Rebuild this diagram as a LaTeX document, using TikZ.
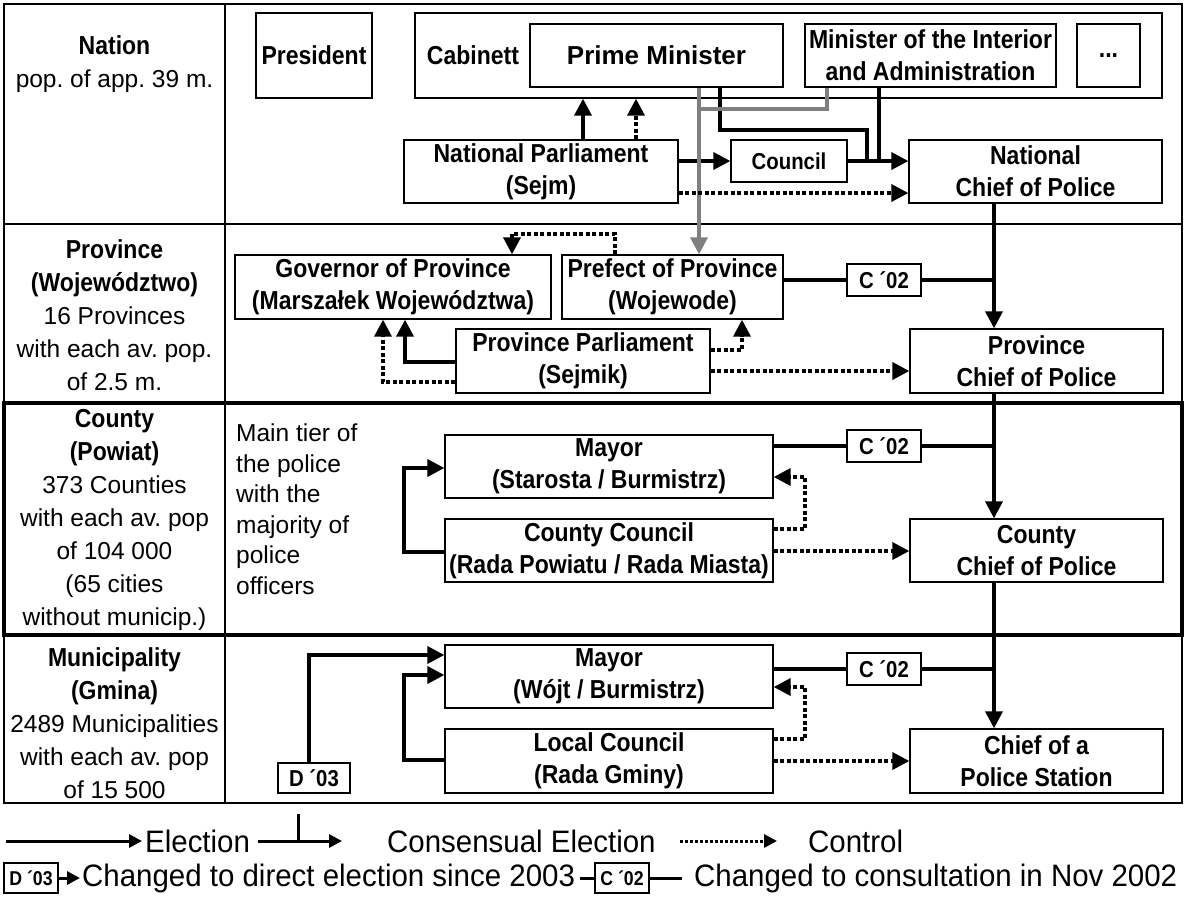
\documentclass[tikz,border=0pt]{standalone}
\usepackage{fontspec}
\setmainfont{Liberation Sans}[BoldFeatures={FakeStretch=0.885}]
\newfontfamily\widefam{Liberation Sans}
\newfontfamily\legfam{Liberation Sans}[FakeStretch=0.95]
\usetikzlibrary{arrows.meta}
\definecolor{lg}{RGB}{128,128,128}
\begin{document}
\frenchspacing
\begin{tikzpicture}[x=1pt,y=-1pt,
  bt/.style={font=\fontsize{26}{32}\selectfont\bfseries},
  rt/.style={font=\fontsize{24.5}{33}\selectfont},
  st/.style={font=\fontsize{23}{28}\selectfont\bfseries},
  lt/.style={font=\legfam\fontsize{31}{34}\selectfont, anchor=west, inner sep=0pt},
  box/.style={draw, line width=1.3pt, inner sep=0pt, align=center, bt},
  sbox/.style={draw, line width=1.3pt, inner sep=0pt, align=center, st, fill=white},
  lbox/.style={draw, line width=1.3pt, inner sep=0pt, align=center, font=\fontsize{20}{24}\selectfont\bfseries, minimum width=54, minimum height=30},
  el/.style={line width=3.5pt, -{Triangle[width=17pt,length=17pt]}},
  ln/.style={line width=3.5pt},
  ctl/.style={line width=3.5pt, dash pattern=on 4pt off 2.5pt, -{Triangle[width=17pt,length=17pt]}},
  gr/.style={line width=3.5pt, draw=lg},
  grl/.style={line width=3.5pt, draw=lg, -{Triangle[width=17pt,length=17pt]}},
  lel/.style={line width=3pt, -{Triangle[width=13pt,length=13pt]}},
  lln/.style={line width=3pt},
  col/.style={align=center, rt, inner sep=0pt, anchor=north},
  grid/.style={line width=1.3pt},
  thk/.style={line width=4pt}
]
\useasboundingbox (0,0) rectangle (1185,898);
\fill[white] (0,0) rectangle (1185,898);
% table
\draw[grid] (4,4) rectangle (1182,803);
\draw[grid] (225,4) -- (225,803);
\draw[grid] (4,224) -- (1182,224);
\draw[thk] (4,403) rectangle (1182,635);

% left column
\node[col] (tNation) at (114.5,35) {{\fontsize{26}{33}\selectfont\bfseries Nation}\\pop. of app. 39 m.};
\node[col] (tProv) at (114.5,239) {{\fontsize{26}{33}\selectfont\bfseries Province}\\{\fontsize{26}{33}\selectfont\bfseries (Województwo)}\\16 Provinces\\with each av. pop.\\of 2.5 m.};
\node[col] (tCounty) at (114.5,409) {{\fontsize{26}{33}\selectfont\bfseries County}\\{\fontsize{26}{33}\selectfont\bfseries (Powiat)}\\373 Counties\\with each av. pop\\of 104 000\\(65 cities\\without municip.)};
\node[col] (tMun) at (114.5,647) {{\fontsize{26}{33}\selectfont\bfseries Municipality}\\{\fontsize{26}{33}\selectfont\bfseries (Gmina)}\\2489 Municipalities\\with each av. pop\\of 15 500};
\node[align=left, font=\fontsize{24.5}{30.5}\selectfont, inner sep=0pt, anchor=north west] (tMain) at (236,424) {Main tier of\\the police\\with the\\majority of\\police\\officers};

% Nation row boxes
\node[box, minimum width=116, minimum height=85] (Pres) at (314,55.5) {President};
\node[box, minimum width=747, minimum height=85] (Cab) at (788.5,55.5) {};
\node[bt, inner sep=0pt] (tCab) at (473,55.5) {Cabinett};
\node[box, minimum width=253, minimum height=63, font=\widefam\fontsize{26}{32}\selectfont\bfseries] (Prime) at (656.5,55.5) {Prime Minister};
\node[box, minimum width=251, minimum height=63] (Mini) at (930.5,55.5) {Minister of the Interior\\and Administration};
\node[box, minimum width=63, minimum height=63] (Dots) at (1108.5,55.5) {...};
\node[box, minimum width=274, minimum height=63] (NatParl) at (541,171.5) {National Parliament\\(Sejm)};
\node[sbox, minimum width=116, minimum height=42] (Council) at (789,161) {Council};
\node[box, minimum width=253, minimum height=63] (NatChief) at (1035.5,171.5) {National\\Chief of Police};

% Province row boxes
\node[box, minimum width=316, minimum height=64] (Gov) at (393,287) {Governor of Province\\(Marszałek Województwa)};
\node[box, minimum width=221, minimum height=64] (Pref) at (672.5,287) {Prefect of Province\\(Wojewode)};
\node[box, minimum width=254, minimum height=64] (ProvParl) at (583,361) {Province Parliament\\(Sejmik)};
\node[box, minimum width=253, minimum height=64] (ProvChief) at (1036.5,361) {Province\\Chief of Police};
\node[sbox, minimum width=74, minimum height=32] (CA) at (884,280) {C ´02};

% County row boxes
\node[box, minimum width=328, minimum height=63] (CMayor) at (609,466.5) {Mayor\\(Starosta / Burmistrz)};
\node[box, minimum width=328, minimum height=63] (CCouncil) at (609,550.5) {County Council\\(Rada Powiatu / Rada Miasta)};
\node[box, minimum width=253, minimum height=63] (CChief) at (1036.5,550.5) {County\\Chief of Police};
\node[sbox, minimum width=74, minimum height=32] (CB) at (884,446) {C ´02};

% Municipality row boxes
\node[box, minimum width=328, minimum height=63] (MMayor) at (609,676.5) {Mayor\\(Wójt / Burmistrz)};
\node[box, minimum width=328, minimum height=64] (LCouncil) at (609,761) {Local Council\\(Rada Gminy)};
\node[box, minimum width=253, minimum height=64] (MChief) at (1036.5,761) {Chief of a\\Police Station};
\node[sbox, minimum width=74, minimum height=32] (CC) at (884,669) {C ´02};
\node[sbox, minimum width=72, minimum height=30] (D3) at (314,778) {D ´03};

% Nation connectors
\draw[el] (NatParl.north -| 583,0) -- (Cab.south -| 583,0);
\draw[ctl] (NatParl.north -| 636,0) -- (Cab.south -| 636,0);
\draw[el] (NatParl.east |- Council.west) -- (Council.west);
\draw[el] (Council.east) -- (NatChief.west |- Council.east);
\draw[ln] (Prime.south -| 720,0) -- (720,130) -- (867,130) -- (867,161);
\draw[ln] (Mini.south -| 879,0) -- (879,161);
\draw[gr] (Mini.south -| 827,0) -- (827,109) -- (699,109);
\draw[grl] (Prime.south -| 699,0) -- (Pref.north -| 699,0);
\draw[ctl] (NatParl.east |- 0,193) -- (NatChief.west |- 0,193);
\draw[el] (NatChief.south -| 994,0) -- (ProvChief.north -| 994,0);

% Province connectors
\draw[ln] (Pref.east |- CA.west) -- (CA.west);
\draw[ln] (CA.east) -- (994,280);
\draw[ctl] (Pref.north -| 615,0) -- (615,234) -- (512,234) -- (Gov.north -| 512,0);
\draw[el] (ProvParl.west |- 0,362) -- (405,362) -- (Gov.south -| 405,0);
\draw[ctl] (ProvParl.west |- 0,382) -- (383,382) -- (Gov.south -| 383,0);
\draw[ctl] (ProvParl.east |- 0,350) -- (742,350) -- (Pref.south -| 742,0);
\draw[ctl] (ProvParl.east |- 0,371) -- (ProvChief.west |- 0,371);
\draw[el] (ProvChief.south -| 994,0) -- (CChief.north -| 994,0);

% County connectors
\draw[ln] (CMayor.east |- CB.west) -- (CB.west);
\draw[ln] (CB.east) -- (994,446);
\draw[el] (CCouncil.west |- 0,552) -- (404,552) -- (404,468) -- (CMayor.west |- 0,468);
\draw[ctl] (CCouncil.east |- 0,529) -- (805,529) -- (805,477) -- (CMayor.east |- 0,477);
\draw[ctl] (CCouncil.east |- 0,551) -- (CChief.west |- 0,551);
\draw[el] (CChief.south -| 994,0) -- (MChief.north -| 994,0);

% Municipality connectors
\draw[ln] (MMayor.east |- CC.west) -- (CC.west);
\draw[ln] (CC.east) -- (994,669);
\draw[el] (D3.north -| 309,0) -- (309,655) -- (MMayor.west |- 0,655);
\draw[el] (LCouncil.west |- 0,760) -- (404,760) -- (404,675) -- (MMayor.west |- 0,675);
\draw[ctl] (LCouncil.east |- 0,739) -- (805,739) -- (805,687) -- (MMayor.east |- 0,687);
\draw[ctl] (LCouncil.east |- 0,761) -- (MChief.west |- 0,761);

% Legend
\coordinate (a1) at (6,841);
\coordinate (a2) at (142,841);
\draw[lel] (a1) -- (a2);
\node[lt] (lE) at (145,841) {Election};
\coordinate (b1) at (258,841);
\coordinate (b2) at (342,841);
\coordinate (bt) at (298,814);
\draw[lel] (b1) -- (b2);
\draw[lln] (bt) -- (298,841);
\node[lt] (lC) at (387,841) {Consensual Election};
\coordinate (c1) at (680,841);
\coordinate (c2) at (777,841);
\draw[line width=3pt, dash pattern=on 3pt off 2pt, -{Triangle[width=13pt,length=13pt]}] (c1) -- (c2);
\node[lt] (lK) at (808,841) {Control};

\node[lbox] (LD) at (31,878) {D ´03};
\coordinate (d2) at (80,878);
\draw[lel] (LD.east) -- (d2);
\node[lt] (lD) at (82,878) {Changed to direct election since 2003};
\node[lbox] (LC) at (622,878) {C ´02};
\coordinate (e1) at (580,878);
\coordinate (e2) at (682,878);
\draw[lln] (e1) -- (LC.west);
\draw[lln] (LC.east) -- (e2);
\node[lt] (lCC) at (694,878) {Changed to consultation in Nov 2002};
\end{tikzpicture}
\end{document}
